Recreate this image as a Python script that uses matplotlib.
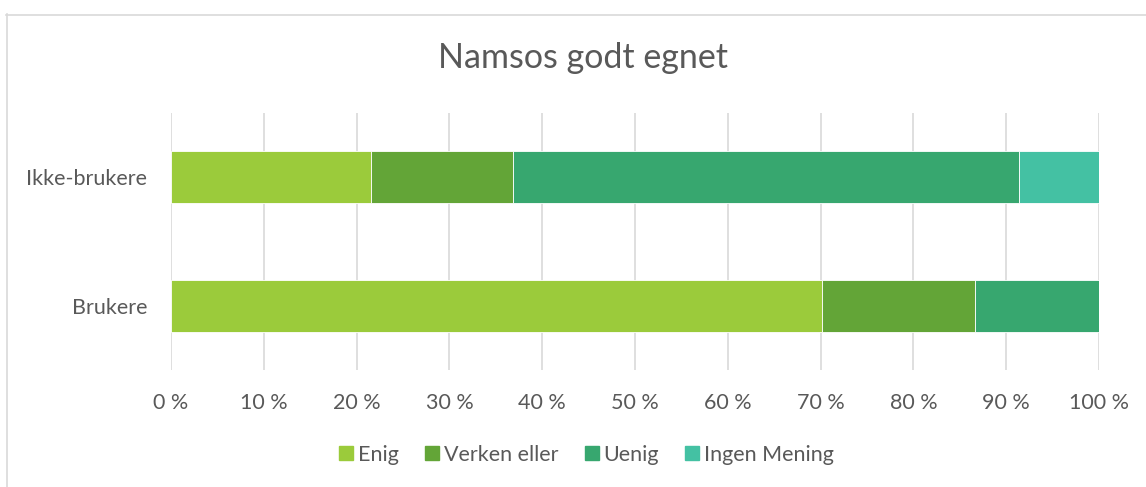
import matplotlib
matplotlib.use("Agg")
import matplotlib.pyplot as plt
from matplotlib.lines import Line2D
from matplotlib.ticker import FuncFormatter

plt.rcParams['font.family'] = ['Lato', 'DejaVu Sans']

categories = ["Brukere", "Ikke-brukere"]
series_names = ["Enig", "Verken eller", "Uenig", "Ingen Mening"]
enig = [70.2, 21.5]
verken = [16.4, 15.4]
uenig = [13.4, 54.5]
ingen = [0.0, 8.6]
colors = ["#9BCB3B", "#63A537", "#37A76F", "#44C1A3"]
xticks = [0, 10, 20, 30, 40, 50, 60, 70, 80, 90, 100]

text_col = "#595959"

fig = plt.figure(figsize=(11.46, 4.87), dpi=100)
ax = fig.add_axes([171/1146, 1 - 370/487, 928/1146, 257/487])

left = [0.0, 0.0]
for name, vals, col in zip(series_names, [enig, verken, uenig, ingen], colors):
    ax.barh(categories, vals, left=left, height=0.405, color=col,
            edgecolor="white", linewidth=0.6, label=name, zorder=3)
    left = [a + b for a, b in zip(left, vals)]

ax.set_xlim(0, 100)
ax.set_ylim(-0.5, 1.5)
ax.set_xticks(xticks)
ax.xaxis.set_major_formatter(FuncFormatter(lambda v, p: f"{int(v)} %"))
ax.grid(axis="x", color="#D9D9D9", linewidth=1.2, zorder=0)
for s in ax.spines.values():
    s.set_visible(False)
ax.tick_params(length=0, labelsize=15.5, labelcolor=text_col)
ax.tick_params(axis="x", pad=16.5)
ax.tick_params(axis="y", pad=17)

fig.text(583/1146, 1 - 58/487, "Namsos godt egnet", ha="center", va="center",
         fontsize=24.5, color=text_col)

handles = [Line2D([], [], marker="s", linestyle="none", markersize=9.5,
                  markerfacecolor=c, markeredgecolor=c) for c in colors]
fig.legend(handles, series_names, loc="center", bbox_to_anchor=(585/1146, 1 - 455/487),
           ncol=4, frameon=False, fontsize=15.5, labelcolor=text_col,
           handletextpad=0.1, columnspacing=1.1, handlelength=0.9)

# chart border (light grey frame)
fig.add_artist(Line2D([6.5/1146, 6.5/1146], [0, 1 - 14/487], color="#D9D9D9", linewidth=1.2))
fig.add_artist(Line2D([6/1146, 1], [1 - 14.5/487, 1 - 14.5/487], color="#D9D9D9", linewidth=1.2))

fig.savefig("out.png", dpi=100)
